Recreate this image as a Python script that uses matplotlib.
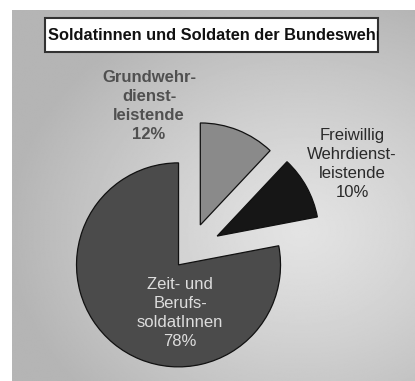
import numpy as np
import matplotlib
matplotlib.use("Agg")
import matplotlib.pyplot as plt
from matplotlib.patches import Rectangle

# ---- data ----
categories = ["Grundwehr-\ndienst-\nleistende", "Freiwillig\nWehrdienst-\nleistende", "Zeit- und\nBerufs-\nsoldatInnen"]
shares = [12, 10, 78]
title = "Soldatinnen und Soldaten der Bundeswehr"

W, H = 415, 381
fig = plt.figure(figsize=(W / 100, H / 100), dpi=100)
fig.patch.set_facecolor("white")
ax = fig.add_axes([0, 0, 1, 1])
ax.set_xlim(0, W)
ax.set_ylim(0, H)
ax.axis("off")

# gradient background panel
px0, px1, py0, py1 = 12, W, 0, H - 10
gx = np.linspace(px0, px1, 300)
gy = np.linspace(py0, py1, 300)
X, Y = np.meshgrid(gx, gy)
d = np.sqrt(((X - 300) / 290) ** 2 + ((Y - 150) / 240) ** 2)
val = 0.89 - 0.18 * np.clip(d, 0, 1.0) ** 1.2
ax.imshow(val, cmap="gray", vmin=0, vmax=1, extent=(px0, px1, py0, py1),
          origin="lower", aspect="auto", zorder=0, interpolation="bilinear")

# pie
colors = ["#8a8a8a", "#161616", "#4b4b4b"]
wedges, _ = ax.pie(shares, colors=colors, startangle=90, counterclock=False,
                   explode=[28, 31, 18], radius=102, center=(190, 130),
                   wedgeprops=dict(edgecolor="#111111", linewidth=0.9),
                   frame=True)
for w in wedges:
    w.set_zorder(2)
ax.set_xlim(0, W)
ax.set_ylim(0, H)
ax.set_aspect("auto")
ax.axis("off")

# labels
ax.text(149, H - 106, categories[0] + "\n%d%%" % shares[0], ha="center", va="center",
        fontsize=12, fontweight="bold", color="#505050", family="Liberation Sans",
        linespacing=1.32, zorder=3)
ax.text(352, H - 164, categories[1] + "\n%d%%" % shares[1], ha="center", va="center",
        fontsize=12, color="#2a2a2a", family="Liberation Sans",
        linespacing=1.32, zorder=3)
ax.text(180, H - 313, categories[2] + "\n%d%%" % shares[2], ha="center", va="center",
        fontsize=12, color="#dddddd", family="Liberation Sans",
        linespacing=1.32, zorder=3)

# title box
box = Rectangle((45, H - 52), 333, 34, facecolor="white", edgecolor="#333333",
                linewidth=1.5, zorder=4)
ax.add_patch(box)
t = ax.text(48, H - 35, title, ha="left", va="center", fontsize=11.8,
            fontweight="bold", color="#111111", family="Liberation Sans", zorder=5,
            clip_on=True)
t.set_clip_path(box)

fig.savefig("out.png", dpi=100, facecolor="white")
